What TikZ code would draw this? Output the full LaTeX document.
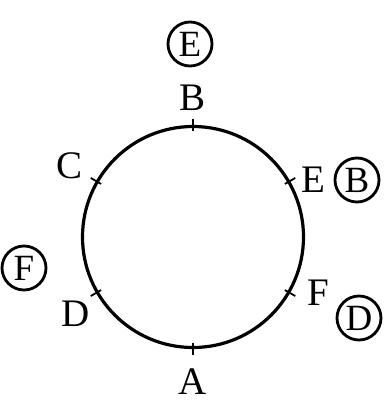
\documentclass[tikz,border=0pt]{standalone}
\usepackage{fontspec}
\setmainfont{Liberation Serif}
\begin{document}
\begin{tikzpicture}[x=1pt,y=-1pt,
  lbl/.style={font=\fontsize{39}{42}\selectfont, inner sep=0pt},
  circled/.style={draw, circle, line width=2.8pt, minimum size=44pt, inner sep=0pt, font=\fontsize{37}{40}\selectfont},
  tick/.style={line width=1.8pt}]
\useasboundingbox (0,0) rectangle (390,405);
\node[draw, circle, line width=3.2pt, minimum size=221pt, inner sep=0pt] (ring) at (193,237) {};
% points on the ring
\coordinate (pB) at (ring.90);
\coordinate (pE) at (ring.30);
\coordinate (pC) at (ring.150);
\coordinate (pD) at (ring.210);
\coordinate (pF) at (ring.-30);
\coordinate (pA) at (ring.-90);
\foreach \p/\a in {pB/90,pE/30,pC/150,pD/210,pF/-30,pA/-90}{
  \draw[tick] (\p) -- ++(\a:6pt);
  \draw[tick] (\p) -- ++(\a:-6pt);
}
% labels
\node[lbl] (lB) at (193,98) {B};
\node[lbl] (lE) at (313,180) {E};
\node[lbl] (lC) at (70,166) {C};
\node[lbl] (lD) at (76,314) {D};
\node[lbl] (lF) at (318,293) {F};
\node[lbl] (lA) at (193,382) {A};
% circled letters
\node[circled] (cE) at (190,44) {E};
\node[circled] (cB) at (357,180) {B};
\node[circled] (cF) at (24,268) {F};
\node[circled] (cD) at (359,318) {D};
\end{tikzpicture}
\end{document}
